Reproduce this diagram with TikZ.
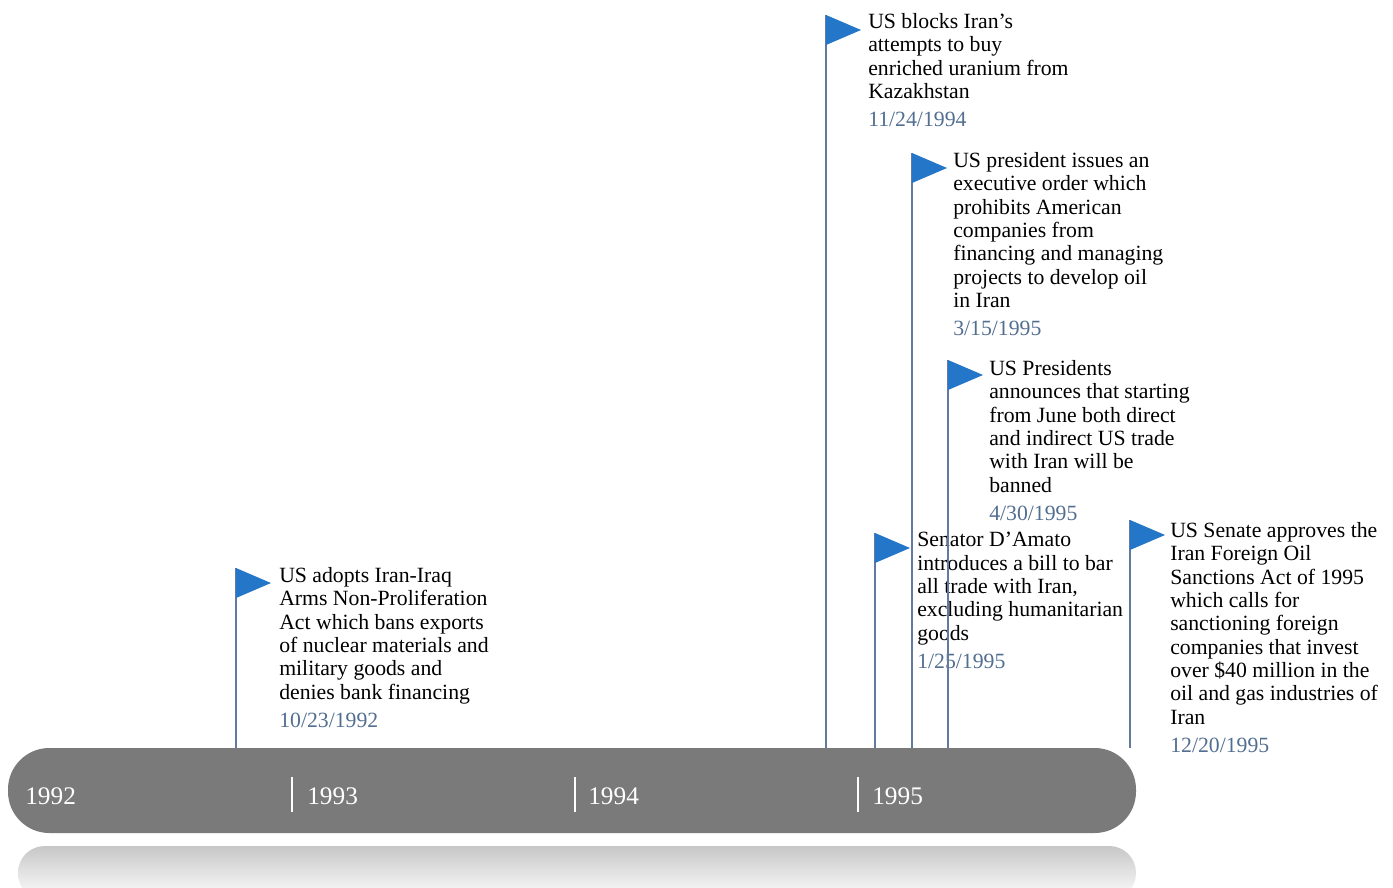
\documentclass[tikz,border=0pt]{standalone}
\usepackage{fontspec}
\setmainfont{Liberation Serif}
\usepackage{tikz}

\definecolor{flagblue}{RGB}{36,118,200}
\definecolor{poleblue}{RGB}{98,122,160}
\definecolor{dateblue}{RGB}{82,110,145}
\definecolor{bargray}{RGB}{122,122,122}

\begin{document}
\begin{tikzpicture}[x=0.75pt,y=-0.75pt]
			\tikzstyle{event}=[
				anchor = north west, align = left, inner sep = 0pt,
				font = \fontsize{16.3}{17.5}\selectfont
			]
			\tikzstyle{year}=[anchor = west, inner sep = 0pt, text = white,
				font = \fontsize{19}{22}\selectfont]
			\tikzstyle{pole}=[-,draw=poleblue,line width=1pt]
			\tikzstyle{flag}=[fill=flagblue]
			\tikzstyle{tick}=[draw=white,line width=1pt]
			\useasboundingbox (0,0) rectangle (1393,888);
			% bar and its reflection
			\shade[top color=black!22, bottom color=white, rounded corners=20pt]
				(18,846) rectangle (1136,900);
			\fill[bargray, rounded corners=31pt] (8,748) rectangle (1136,833);
			% years
			\node[year] (y92) at (25,796) {1992};
			\node[year] (y93) at (307,796) {1993};
			\node[year] (y94) at (588,796) {1994};
			\node[year] (y95) at (872,796) {1995};
			\coordinate (t93a) at (292,777); \coordinate (t93b) at (292,812);
			\coordinate (t94a) at (575,777); \coordinate (t94b) at (575,812);
			\coordinate (t95a) at (858,777); \coordinate (t95b) at (858,812);
			\draw (t93a) to (t93b) [tick];
			\draw (t94a) to (t94b) [tick];
			\draw (t95a) to (t95b) [tick];
			% events
			\node[event] (e1) at (279,567) {US adopts Iran-Iraq\\Arms Non-Proliferation\\Act which bans exports\\of nuclear materials and\\military goods and\\denies bank financing\\[3.5pt]\textcolor{dateblue}{10/23/1992}};
			\node[event] (e2) at (868,13) {US blocks Iran's\\attempts to buy\\enriched uranium from\\Kazakhstan\\[3.5pt]\textcolor{dateblue}{11/24/1994}};
			\node[event] (e3) at (953,152) {US president issues an\\executive order which\\prohibits American\\companies from\\financing and managing\\projects to develop oil\\in Iran\\[3.5pt]\textcolor{dateblue}{3/15/1995}};
			\node[event] (e4) at (989,360) {US Presidents\\announces that starting\\from June both direct\\and indirect US trade\\with Iran will be\\banned\\[3.5pt]\textcolor{dateblue}{4/30/1995}};
			\node[event] (e5) at (917,532) {Senator D'Amato\\introduces a bill to bar\\all trade with Iran,\\excluding humanitarian\\goods\\[3.5pt]\textcolor{dateblue}{1/25/1995}};
			\node[event] (e6) at (1170,522) {US Senate approves the\\Iran Foreign Oil\\Sanctions Act of 1995\\which calls for\\sanctioning foreign\\companies that invest\\over \$40 million in the\\oil and gas industries of\\Iran\\[3.5pt]\textcolor{dateblue}{12/20/1995}};
			% poles and flags
			\coordinate (f1) at (236,568);  \coordinate (b1) at (236,748);
			\coordinate (f2) at (826,15);   \coordinate (b2) at (826,748);
			\coordinate (f3) at (912,153);  \coordinate (b3) at (912,748);
			\coordinate (f4) at (948,360);  \coordinate (b4) at (948,748);
			\coordinate (f5) at (875,533);  \coordinate (b5) at (875,748);
			\coordinate (f6) at (1130,520); \coordinate (b6) at (1130,748);
			\foreach \i in {1,...,6}{
				\draw (f\i) to (b\i) [pole];
				\fill[flag] (f\i) -- ++(35,15) -- ++(-35,15) -- cycle;
			}
		\end{tikzpicture}
\end{document}
